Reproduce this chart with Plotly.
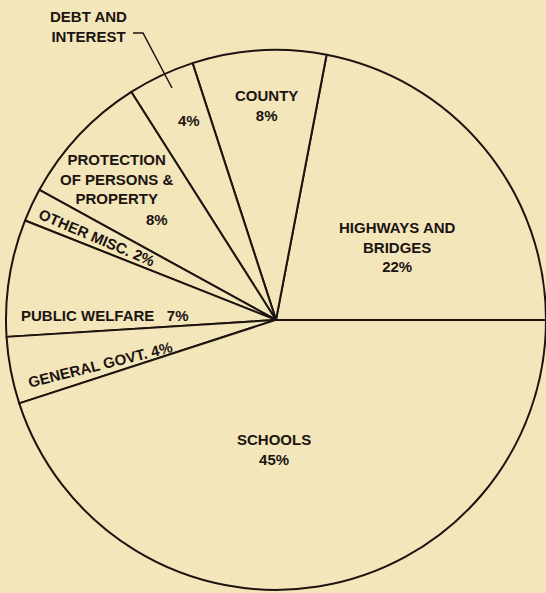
import plotly.graph_objects as go

# ---- data ----
categories = ["HIGHWAYS AND BRIDGES", "COUNTY", "DEBT AND INTEREST",
              "PROTECTION OF PERSONS & PROPERTY", "OTHER MISC.",
              "PUBLIC WELFARE", "GENERAL GOVT.", "SCHOOLS"]
shares = [22, 8, 4, 8, 2, 7, 4, 45]
name_lines = [["HIGHWAYS AND", "BRIDGES"], ["COUNTY"], ["DEBT AND", "INTEREST"],
              ["PROTECTION", "OF PERSONS &", "PROPERTY"], ["OTHER MISC."],
              ["PUBLIC WELFARE"], ["GENERAL GOVT."], ["SCHOOLS"]]

W, H = 546, 593
BG = "#f2e6ba"
INK = "#1c1410"
FONT = dict(family="Liberation Sans, Arial, sans-serif", size=15, color=INK)

# plotly's counterclockwise pies end the first slice at the rotation angle,
# so shift it so that the first slice starts at 3 o'clock
rotation = 90 - 360 * shares[0] / sum(shares)

fig = go.Figure(go.Pie(
    labels=categories, values=shares, sort=False,
    direction="counterclockwise", rotation=rotation,
    textinfo="none", hoverinfo="label+percent",
    marker=dict(colors=[BG] * len(shares), line=dict(color=INK, width=2)),
    domain=dict(x=[0.011, 1.0], y=[0.005, 0.916]),
    showlegend=False,
))

def px(x, y):
    return x / W, 1 - y / H

def note(x, y, text, angle=0):
    ax, ay = px(x, y)
    text = "<br>".join(f"<b>{t}</b>" for t in text.split("<br>"))
    fig.add_annotation(x=ax, y=ay, xref="paper", yref="paper", text=text,
                       showarrow=False, textangle=angle, font=FONT,
                       xanchor="center", yanchor="middle")

pct = [f"{v}%" for v in shares]
# Highways and bridges
note(397, 247, "<br>".join(name_lines[0] + [pct[0]]))
# County
note(266, 106, "<br>".join(name_lines[1] + [pct[1]]))
# Debt and interest (outside label + inner percent)
note(88, 26, "<br>".join(name_lines[2]))
note(189, 121, pct[2])
# Protection
note(117, 179, "<br>".join(name_lines[3]))
note(157, 220, pct[3])
# Other misc (rotated)
note(97, 237, f"{name_lines[4][0]} {pct[4]}", angle=23)
# Public welfare
note(105, 315, f"{name_lines[5][0]}   {pct[5]}")
# General govt (rotated)
note(100, 364, f"{name_lines[6][0]} {pct[6]}", angle=-14)
# Schools
note(274, 449, "<br>".join(name_lines[7] + [pct[7]]))

# leader line for debt and interest
p1, p2, p3 = px(133, 33), px(143, 33), px(172, 88)
fig.add_shape(type="path", xref="paper", yref="paper",
              path=f"M {p1[0]},{p1[1]} L {p2[0]},{p2[1]} L {p3[0]},{p3[1]}",
              line=dict(color=INK, width=1.5))

fig.update_layout(width=W, height=H, margin=dict(l=0, r=0, t=0, b=0),
                  paper_bgcolor=BG, plot_bgcolor=BG)
fig.write_html("out.html", config={"displayModeBar": False},
               post_script="document.body.style.margin='0';"
                           "document.body.style.background='%s';" % BG)
